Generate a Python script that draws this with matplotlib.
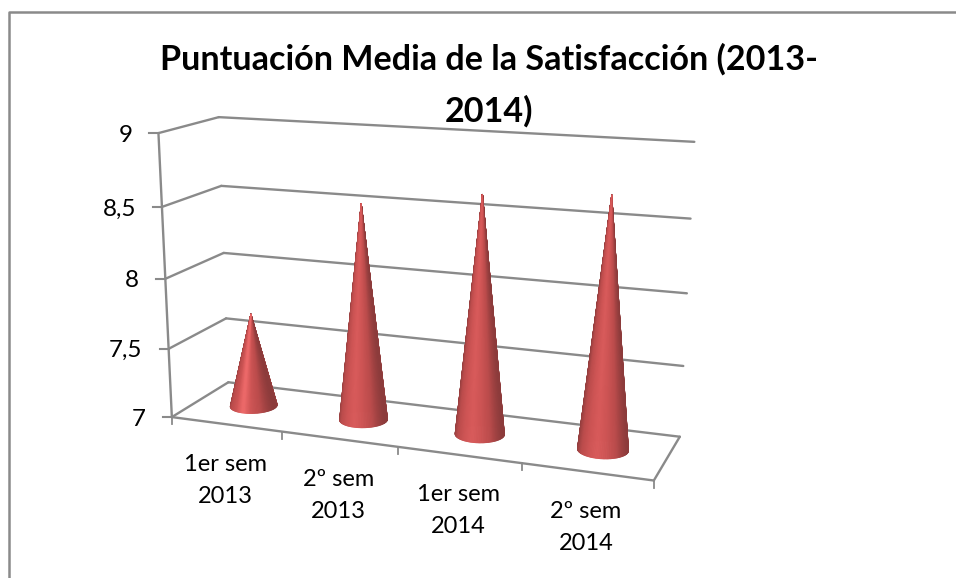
import numpy as np
import matplotlib
matplotlib.use('Agg')
import matplotlib.pyplot as plt
from matplotlib.collections import PolyCollection
from matplotlib.colors import LinearSegmentedColormap

plt.rcParams['font.family'] = ['Lato', 'DejaVu Sans']

title = 'Puntuación Media de la Satisfacción (2013-\n2014)'
categories = ['1er sem\n2013', '2º sem\n2013', '1er sem\n2014', '2º sem\n2014']
values = [7.68, 8.53, 8.65, 8.7]
y_ticks = [7, 7.5, 8, 8.5, 9]
y_labels = ['7', '7,5', '8', '8,5', '9']
cone_centres = ['#ee6a6a', '#d85b5b', '#d85b5b', '#d85b5b']

GREY = '#8a8a8a'
ymin, ymax = 7, 9
ncat = len(categories)

# where the box of the 3d chart lands on the picture: (cat, depth, value) -> px
calib = [
    (0, 0, 7, 172, 417), (0, 0, 7.5, 169, 348), (0, 0, 8, 165.5, 279),
    (0, 0, 8.5, 162, 207), (0, 0, 9, 158, 133),
    (0, 1, 7, 228, 383), (0, 1, 7.5, 226, 318), (0, 1, 8, 224, 253),
    (0, 1, 8.5, 221, 186), (0, 1, 9, 219, 117),
    (4, 1, 7, 680, 436), (4, 1, 7.5, 683, 366), (4, 1, 8, 687, 293),
    (4, 1, 8.5, 691, 219), (4, 1, 9, 694, 142),
    (4, 0, 7, 654, 481), (1, 0, 7, 282, 432), (2, 0, 7, 398, 447), (3, 0, 7, 522, 463),
]


def fit_projection(pts):
    A = []
    b = []
    for c, d, v, px, py in pts:
        A.append([c, d, v, 1, 0, 0, 0, 0, -px*c, -px*d, -px*v])
        b.append(px)
        A.append([0, 0, 0, 0, c, d, v, 1, -py*c, -py*d, -py*v])
        b.append(py)
    return np.linalg.lstsq(np.array(A, float), np.array(b, float), rcond=None)[0]


M = fit_projection(calib)


def proj(c, d, v):
    c, d, v = np.asarray(c, float), np.asarray(d, float), np.asarray(v, float)
    w = M[8]*c + M[9]*d + M[10]*v + 1
    return (M[0]*c + M[1]*d + M[2]*v + M[3])/w, (M[4]*c + M[5]*d + M[6]*v + M[7])/w


def seg(ax, a, b, lw=1.7):
    xa, ya = proj(*a)
    xb, yb = proj(*b)
    ax.plot([xa, xb], [ya, yb], color=GREY, lw=lw, solid_capstyle='round', zorder=1)


fig = plt.figure(figsize=(9.56, 5.78), dpi=100)
ax = fig.add_axes([0, 0, 1, 1])
ax.set_xlim(0, 956)
ax.set_ylim(578, 0)
ax.axis('off')

# chart frame, only top and left are in the crop
ax.plot([9.5, 9.5, 956], [578, 11.5, 11.5], color=GREY, lw=1.8, zorder=1)

# gridlines on the two walls
for t, lab in zip(y_ticks, y_labels):
    seg(ax, (0, 0, t), (0, 1, t))
    seg(ax, (0, 1, t), (4, 1, t))
    x0, y0 = proj(0, 0, t)
    ax.plot([x0-9, x0], [y0, y0], color=GREY, lw=1.5, zorder=1)
    ax.text(x0-26, y0+2, lab, ha='right', va='center', fontsize=17.5, color='black')

# axis lines and floor
seg(ax, (0, 0, ymin), (0, 0, ymax))
seg(ax, (0, 0, ymin), (4, 0, ymin))
seg(ax, (4, 0, ymin), (4, 1, ymin))
for i in range(ncat+1):
    x0, y0 = proj(i, 0, ymin)
    ax.plot([x0, x0], [y0, y0+7], color=GREY, lw=1.3, zorder=1)

# category labels
for i, lab in enumerate(categories):
    x0, y0 = proj(i+0.5, 0, ymin)
    ax.text(x0-1, y0+56, lab, ha='center', va='center', fontsize=17,
            linespacing=1.65, color='black')

# cones, shaded by the angle round the axis, back faces first
rx, rd = 0.195, 0.2
for i, val in enumerate(values):
    cmap = LinearSegmentedColormap.from_list(
        'cone', ['#8c3b3b', '#bb4c4c', '#cd5454', cone_centres[i], '#cd5454', '#bb4c4c', '#8c3b3b'])
    ang = np.linspace(0, np.pi*2, 121)
    cx = i + 0.5 + rx*np.cos(ang)
    cd = 0.5 + rd*np.sin(ang)
    bx, by = proj(cx, cd, ymin)
    tx, ty = proj(i+0.5, 0.5, val)
    mid = (ang[:-1] + ang[1:])/2
    order = np.argsort(-np.sin(mid))
    tris = []
    cols = []
    for k in order:
        tris.append([(tx, ty), (bx[k], by[k]), (bx[k+1], by[k+1])])
        cols.append(cmap(0.5 + 0.5*np.cos(mid[k])))
    ax.add_collection(PolyCollection(tris, facecolors=cols, edgecolors=cols, linewidths=0.7, zorder=3))

fig.text(489/956, 1-85.5/578, title, ha='center', va='center', fontsize=24.6, fontweight='bold',
         linespacing=1.72, color='black')

fig.savefig('out.png', dpi=100)
